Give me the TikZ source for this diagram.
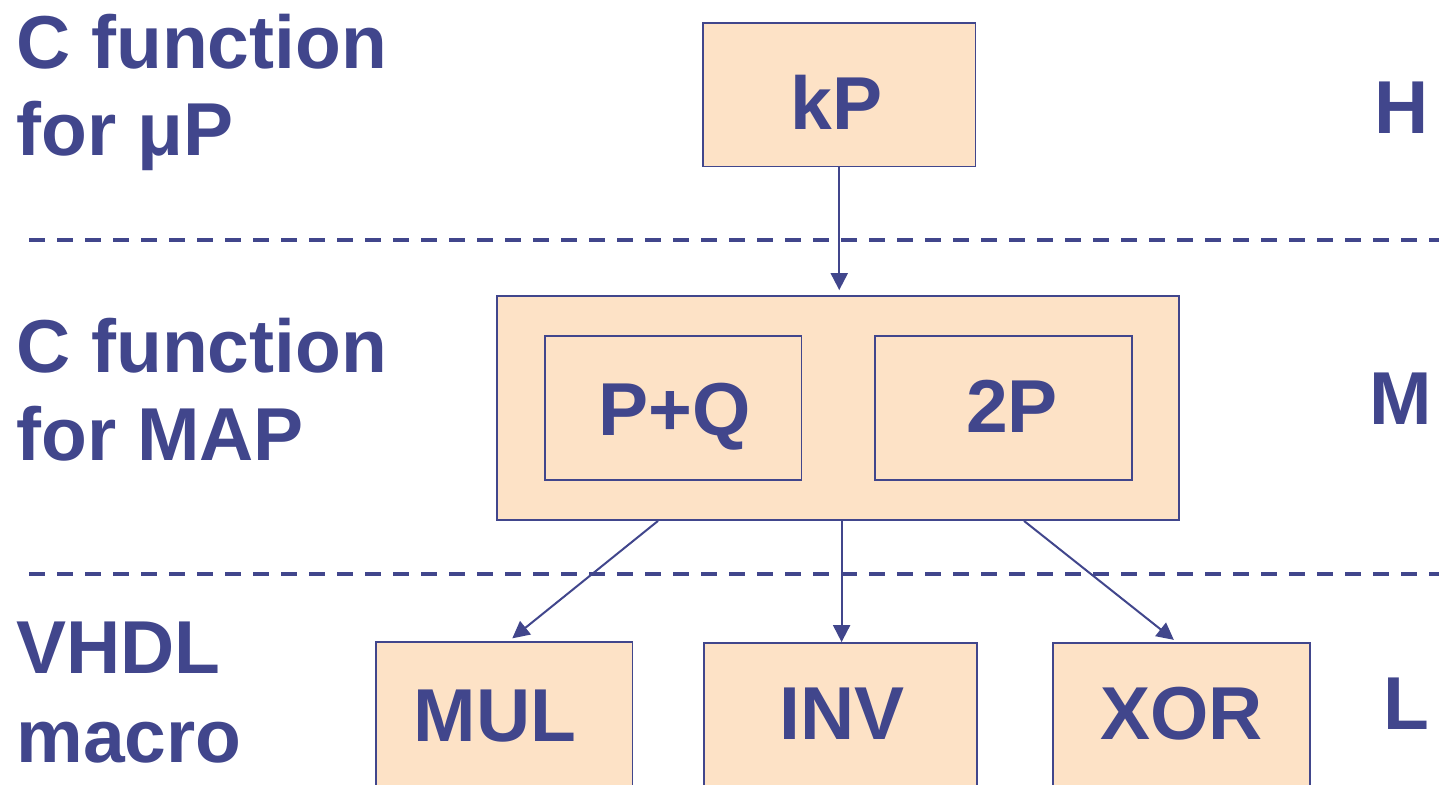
\documentclass[tikz,border=0pt]{standalone}
\usepackage{fontspec}
\setmainfont{Liberation Sans}
\usetikzlibrary{arrows.meta,fit}
\definecolor{inkblue}{HTML}{41468C}
\definecolor{boxfill}{HTML}{FDE2C6}
\tikzset{
  unit/.style={draw=inkblue, fill=boxfill, line width=0.9pt, inner sep=0pt},
  txt/.style={text=inkblue, font=\bfseries\fontsize{37.5}{45}\selectfont, inner sep=0pt, anchor=base},
  conn/.style={draw=inkblue, line width=1pt, -{Triangle[length=8.5pt,width=8.5pt]}},
  level/.style={draw=inkblue, line width=2pt, dash pattern=on 8pt off 6pt},
}
\begin{document}
\begin{tikzpicture}[x=0.5pt,y=-0.5pt]
  \clip (0,0) rectangle (1439,784);

  % Separadors de nivell
  \coordinate (sepA) at (29,240);
  \coordinate (sepB) at (29,574);
  \draw[level] (sepA) -- (1439,240);
  \draw[level] (sepB) -- (1439,574);

  % Etiquetes de l'esquerra
  \foreach \n/\y/\lab in {a/68/{C function},b/155/{for μP},
                          c/372/{C function},d/460/{for MAP},
                          e/673/{VHDL},f/762/{macro}} {
    \node[txt, anchor=base west] (left\n) at (16,\y) {\lab};
  }

  % Nivells H, M, L
  \node[txt] (lvH) at (1402,133) {H};
  \node[txt] (lvM) at (1401,424) {M};
  \node[txt] (lvL) at (1406,729) {L};

  % Caixes
  \node[unit, fit={(703,23) (975.5,166.5)}] (kP) {};
  \node[unit, fit={(497,296) (1179,520)}] (map) {};
  \node[unit, fit={(545,336) (801.5,480)}] (add) {};
  \node[unit, fit={(875,336) (1132,480)}] (dbl) {};
  \node[unit, fit={(376,642) (632.5,795)}] (mul) {};
  \node[unit, fit={(704,643) (977,795)}] (inv) {};
  \node[unit, fit={(1053,643) (1310,795)}] (xor) {};

  % Textos de les caixes
  \node[txt] (kPtext) at (836.5,129) {kP};
  \node[txt] (addtext) at (675,435.5) {P+Q};
  \node[txt] (dbltext) at (1012,432.5) {2P};
  \node[txt] (multext) at (495,741.5) {MUL};
  \node[txt] (invtext) at (842,739) {INV};
  \node[txt] (xortext) at (1181.5,739) {XOR};

  % Fletxes
  \draw[conn, shorten >=2.5pt] (kP.south) -- (kP.south |- map.north);
  \draw[conn, shorten >=2.2pt] ([xshift=-90pt]map.south) -- ([xshift=2.3pt]mul.north);
  \coordinate (invfrom) at ([xshift=1.8pt]map.south);
  \draw[conn] (invfrom) -- (invfrom |- inv.north);
  \draw[conn, shorten >=1.8pt] ([xshift=93pt]map.south) -- ([xshift=-2.4pt]xor.north);
\end{tikzpicture}
\end{document}
